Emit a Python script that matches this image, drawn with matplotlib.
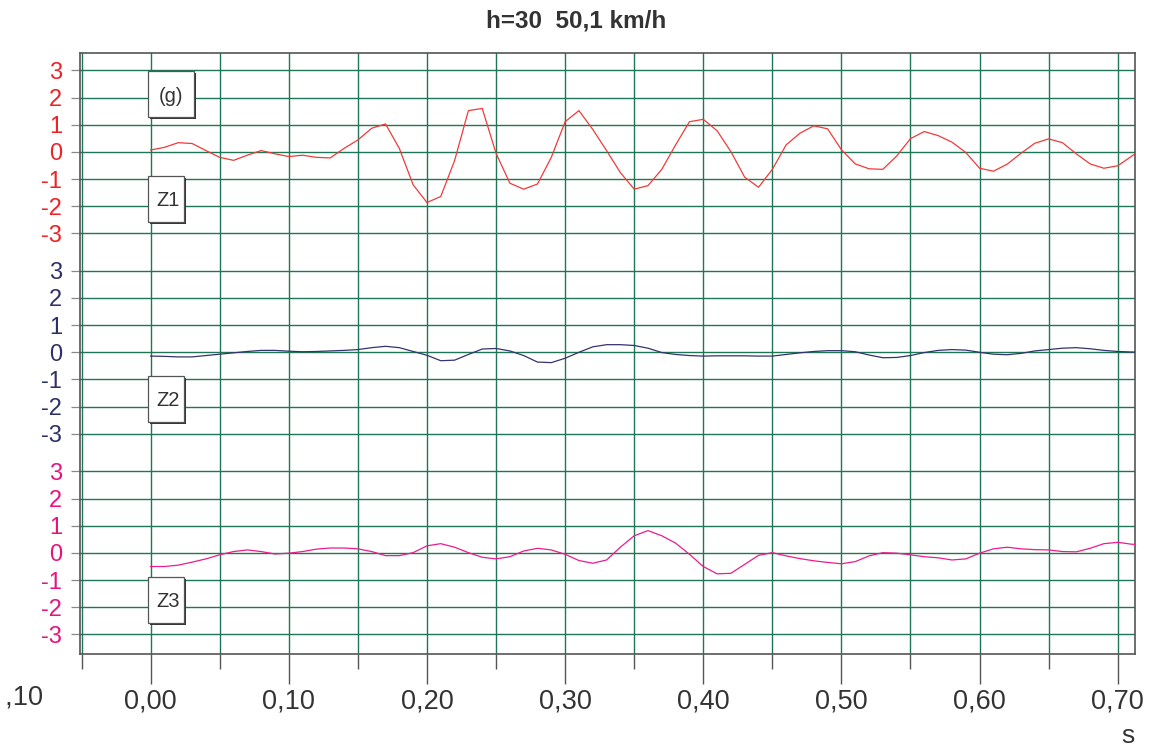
import matplotlib
matplotlib.use("Agg")
import matplotlib.pyplot as plt
from matplotlib.patches import Rectangle
import matplotlib.transforms as mtransforms

plt.rcParams['font.family'] = ['Liberation Sans', 'DejaVu Sans']

# ---------------- data ----------------
time_s = [0.00, 0.01, 0.02, 0.03, 0.04, 0.05, 0.06, 0.07, 0.08, 0.09,
          0.10, 0.11, 0.12, 0.13, 0.14, 0.15, 0.16, 0.17, 0.18, 0.19,
          0.20, 0.21, 0.22, 0.23, 0.24, 0.25, 0.26, 0.27, 0.28, 0.29,
          0.30, 0.31, 0.32, 0.33, 0.34, 0.35, 0.36, 0.37, 0.38, 0.39,
          0.40, 0.41, 0.42, 0.43, 0.44, 0.45, 0.46, 0.47, 0.48, 0.49,
          0.50, 0.51, 0.52, 0.53, 0.54, 0.55, 0.56, 0.57, 0.58, 0.59,
          0.60, 0.61, 0.62, 0.63, 0.64, 0.65, 0.66, 0.67, 0.68, 0.69,
          0.70, 0.71, 0.72]

z1 = [0.07, 0.17, 0.34, 0.31, 0.05, -0.20, -0.31, -0.12, 0.05, -0.07,
      -0.17, -0.12, -0.20, -0.22, 0.13, 0.44, 0.87, 1.03, 0.13, -1.21,
      -1.86, -1.64, -0.32, 1.52, 1.60, -0.05, -1.15, -1.37, -1.18, -0.20,
      1.11, 1.52, 0.83, 0.05, -0.76, -1.37, -1.24, -0.64, 0.26, 1.11,
      1.20, 0.78, 0.01, -0.93, -1.30, -0.64, 0.26, 0.69, 0.96, 0.85,
      0.08, -0.44, -0.62, -0.64, -0.15, 0.49, 0.75, 0.60, 0.36, -0.02,
      -0.60, -0.71, -0.45, -0.05, 0.32, 0.48, 0.34, -0.07, -0.44, -0.60,
      -0.51, -0.16, 0.20]

z2 = [-0.14, -0.15, -0.17, -0.17, -0.12, -0.07, -0.02, 0.03, 0.07, 0.07,
      0.04, 0.02, 0.03, 0.05, 0.07, 0.10, 0.17, 0.22, 0.17, 0.03,
      -0.11, -0.31, -0.29, -0.08, 0.12, 0.14, 0.05, -0.12, -0.36, -0.38,
      -0.22, 0.00, 0.20, 0.28, 0.28, 0.25, 0.15, -0.01, -0.08, -0.12,
      -0.14, -0.13, -0.13, -0.13, -0.14, -0.14, -0.08, -0.02, 0.03, 0.06,
      0.06, 0.02, -0.10, -0.20, -0.19, -0.12, -0.01, 0.07, 0.10, 0.08,
      0.00, -0.07, -0.09, -0.04, 0.05, 0.10, 0.15, 0.17, 0.13, 0.07,
      0.03, 0.01, 0.01]

z3 = [-0.50, -0.50, -0.45, -0.34, -0.22, -0.07, 0.05, 0.11, 0.05, -0.04,
      -0.01, 0.05, 0.14, 0.18, 0.18, 0.15, 0.05, -0.10, -0.10, 0.01,
      0.26, 0.34, 0.21, 0.01, -0.16, -0.22, -0.14, 0.07, 0.17, 0.11,
      -0.05, -0.28, -0.38, -0.26, 0.21, 0.63, 0.82, 0.63, 0.36, -0.05,
      -0.50, -0.77, -0.75, -0.42, -0.09, 0.01, -0.11, -0.21, -0.29, -0.35,
      -0.40, -0.32, -0.11, 0.01, -0.01, -0.07, -0.14, -0.18, -0.26, -0.22,
      -0.01, 0.15, 0.21, 0.15, 0.12, 0.11, 0.05, 0.04, 0.17, 0.34,
      0.39, 0.32, 0.30]

channel_names = ["Z1", "Z2", "Z3"]
channel_colors = ["#f03a3a", "#34346e", "#ec1c8c"]
label_colors = ["#ee2227", "#2e3068", "#e6147e"]
y_tick_values = [3, 2, 1, 0, -1, -2, -3]
x_major = [0.00, 0.10, 0.20, 0.30, 0.40, 0.50, 0.60, 0.70]
x_minor = [-0.05, 0.05, 0.15, 0.25, 0.35, 0.45, 0.55, 0.65]
title = "h=30  50,1 km/h"
unit_label = "(g)"
x_unit = "s"

# ---------------- layout ----------------
W, H = 1156, 749
fig = plt.figure(figsize=(W / 100, H / 100), dpi=100)
ax_l, ax_r, ax_t, ax_b = 79.5, 1135, 52.7, 653.5
ax = fig.add_axes([ax_l / W, 1 - ax_b / H, (ax_r - ax_l) / W, (ax_b - ax_t) / H])

offsets = [0.0, -7.37, -14.75]
grid_color = "#1f7656"

for data, off, col in zip([z1, z2, z3], offsets, channel_colors):
    ax.plot(time_s, [v + off for v in data], color=col, lw=0.9, zorder=3)

ax.set_xlim(-0.0515, 0.7125)
ax.set_ylim(-18.45, 3.65)

# y ticks (three stacked channels)
yt, ylab, ycol = [], [], []
for off, lc in zip(offsets, label_colors):
    for v in y_tick_values:
        yt.append(v + off)
        ylab.append(str(v))
        ycol.append(lc)
ax.set_yticks(yt)
ax.set_yticklabels(ylab, fontsize=17)
for tl, c in zip(ax.get_yticklabels(), ycol):
    tl.set_color(c)
ax.tick_params(axis="y", direction="out", length=6.5, width=0.9,
               color="#888888", pad=6)

# x ticks
ax.set_xticks(x_major)
ax.set_xticklabels([f"{v:.2f}".replace(".", ",") for v in x_major],
                   fontsize=19.5, color="#333333")
ax.set_xticks(x_minor, minor=True)
ax.tick_params(axis="x", which="major", direction="out", length=21.5,
               width=1.0, color="#555555", pad=3.5)
ax.tick_params(axis="x", which="minor", direction="out", length=10.8,
               width=1.0, color="#555555")

# clipped label at -0,10 (partly outside the chart frame)
trans = mtransforms.blended_transform_factory(ax.transData, fig.transFigure)
lab = ax.text(-0.10, 1 - 698 / H, "-0,10", transform=trans, ha="center",
              va="center", fontsize=19.5, color="#333333", clip_on=True)
lab.set_clip_box(mtransforms.TransformedBbox(
    mtransforms.Bbox([[7 / W, 0], [1, 1]]), fig.transFigure))

# grid
ax.grid(True, which="both", axis="x", color=grid_color, lw=1.0)
ax.grid(True, which="major", axis="y", color=grid_color, lw=1.0)
ax.set_axisbelow(True)

for s in ["left", "right", "top", "bottom"]:
    ax.spines[s].set_color("#555555")
    ax.spines[s].set_linewidth(1.2)

# title and unit
fig.text(576 / W, 1 - 21 / H, title, ha="center", va="center",
         fontsize=17.5, fontweight="bold", color="#333333")
fig.text(1128 / W, 1 - 736 / H, x_unit, ha="center", va="center",
         fontsize=19, color="#333333")

# labelled boxes
def box(x0, y0, x1, y1, text, tx, ty):
    sh = Rectangle((x0 / W + 1.6 / W, 1 - (y1 + 1.6) / H),
                   (x1 - x0) / W, (y1 - y0) / H, transform=fig.transFigure,
                   facecolor="#333333", edgecolor="none", zorder=5)
    fig.patches.append(sh)
    r = Rectangle((x0 / W, 1 - y1 / H), (x1 - x0) / W, (y1 - y0) / H,
                  transform=fig.transFigure, facecolor="white",
                  edgecolor="#555555", lw=0.9, zorder=6)
    fig.patches.append(r)
    fig.text(tx / W, 1 - ty / H, text, ha="center", va="center",
             fontsize=14.5, color="#333333", zorder=7)

box(148, 71, 194, 117, unit_label, 170.5, 96)
box(148, 176, 184, 222, channel_names[0], 168.5, 200.5)
box(148, 376, 184, 422, channel_names[1], 168.5, 400.5)
box(148, 577, 184, 623, channel_names[2], 168.5, 601.5)

fig.savefig("out.png", dpi=100)
